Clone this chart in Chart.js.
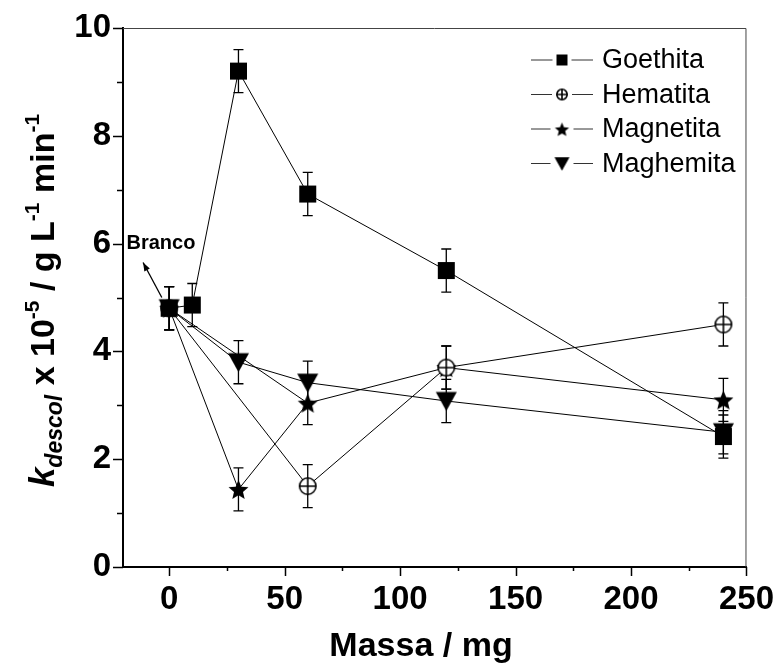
<!DOCTYPE html>
<html>
<head>
<meta charset="utf-8">
<script src="https://cdn.jsdelivr.net/npm/chart.js@4"></script>
<style>
html, body { margin: 0; padding: 0; background: #fff; }
#wrap { width: 777px; height: 670px; }
</style>
</head>
<body>
<div id="wrap"><canvas id="kChart" width="777" height="670"></canvas></div>
<script>
// massa (mg) and k_descol x 10^-5
const goethitaX = [0, 10, 30, 60, 120, 240];
const goethitaY = [4.8, 4.86, 9.2, 6.92, 5.5, 2.42];
const goethitaErr = [0.4, 0.4, 0.4, 0.4, 0.4, 0.4];

const hematitaX = [0, 60, 120, 240];
const hematitaY = [4.8, 1.5, 3.7, 4.5];
const hematitaErr = [0.4, 0.4, 0.4, 0.4];

const magnetitaX = [0, 30, 60, 120, 240];
const magnetitaY = [4.8, 1.44, 3.04, 3.7, 3.1];
const magnetitaErr = [0.4, 0.4, 0.4, 0.4, 0.4];

const maghemitaX = [0, 30, 60, 120, 240];
const maghemitaY = [4.8, 3.8, 3.42, 3.08, 2.5];
const maghemitaErr = [0.4, 0.4, 0.4, 0.4, 0.4];

// extra connecting segment visible in the figure (blank -> 60 mg)
const extraX = [0, 60];
const extraY = [4.8, 3.04];

const seriesNames = ['Goethita', 'Hematita', 'Magnetita', 'Maghemita'];
const xTicks = [0, 25, 50, 75, 100, 125, 150, 175, 200, 225, 250];

const FONT = '"Liberation Sans", Arial, sans-serif';

function toPoints(xs, ys) {
    return xs.map((x, i) => ({ x: x, y: ys[i] }));
}

function makeMarker(kind, size) {
    const pad = 2;
    const c = document.createElement('canvas');
    c.width = c.height = Math.ceil(size + pad * 2);
    const g = c.getContext('2d');
    const cx = c.width / 2, cy = c.height / 2, h = size / 2;
    g.fillStyle = '#000';
    g.strokeStyle = '#000';
    g.lineWidth = 1.6;
    if (kind === 'square') {
        g.fillRect(cx - h, cy - h, size, size);
    } else if (kind === 'circle') {
        g.beginPath();
        g.arc(cx, cy, h - 0.8, 0, Math.PI * 2);
        g.fillStyle = '#fff';
        g.fill();
        g.stroke();
        g.beginPath();
        g.moveTo(cx - h + 0.8, cy); g.lineTo(cx + h - 0.8, cy);
        g.moveTo(cx, cy - h + 0.8); g.lineTo(cx, cy + h - 0.8);
        g.stroke();
    } else if (kind === 'star') {
        g.beginPath();
        for (let k = 0; k < 10; k++) {
            const r = k % 2 === 0 ? h : h * 0.45;
            const a = -Math.PI / 2 + k * Math.PI / 5;
            const px = cx + r * Math.cos(a), py = cy + 1 + r * Math.sin(a);
            if (k === 0) g.moveTo(px, py); else g.lineTo(px, py);
        }
        g.closePath();
        g.fill();
    } else if (kind === 'triangle') {
        g.beginPath();
        g.moveTo(cx - h, cy - h * 0.85);
        g.lineTo(cx + h, cy - h * 0.85);
        g.lineTo(cx, cy + h * 0.95);
        g.closePath();
        g.fill();
    }
    return c;
}

const markerKinds = ['square', 'circle', 'star', 'triangle'];
const markerSizes = [17, 18, 21, 21];
const legendSizes = [11, 12, 15, 15];
const plotMarkers = markerKinds.map((k, i) => makeMarker(k, markerSizes[i]));
const legendMarkers = markerKinds.map((k, i) => makeMarker(k, legendSizes[i]));
const errors = [goethitaErr, hematitaErr, magnetitaErr, maghemitaErr];

function series(label, xs, ys, idx) {
    return {
        label: label,
        data: toPoints(xs, ys),
        showLine: true,
        borderColor: '#000',
        borderWidth: 1,
        pointStyle: plotMarkers[idx],
        pointRadius: 9,
        pointHoverRadius: 9
    };
}

const errorBarPlugin = {
    id: 'errorBars',
    beforeDatasetsDraw(chart) {
        const ctx = chart.ctx;
        const xs = chart.scales.x, ys = chart.scales.y;
        ctx.save();
        ctx.strokeStyle = '#000';
        ctx.lineWidth = 1.3;
        errors.forEach((errs, i) => {
            chart.data.datasets[i].data.forEach((p, j) => {
                const px = xs.getPixelForValue(p.x);
                const top = ys.getPixelForValue(p.y + errs[j]);
                const bot = ys.getPixelForValue(p.y - errs[j]);
                ctx.beginPath();
                ctx.moveTo(px, top); ctx.lineTo(px, bot);
                ctx.moveTo(px - 5, top); ctx.lineTo(px + 5, top);
                ctx.moveTo(px - 5, bot); ctx.lineTo(px + 5, bot);
                ctx.stroke();
            });
        });
        ctx.restore();
    }
};

const decorPlugin = {
    id: 'decor',
    afterDraw(chart) {
        const ctx = chart.ctx;
        const area = chart.chartArea;
        const xs = chart.scales.x, ys = chart.scales.y;
        ctx.save();

        // frame top/right
        ctx.strokeStyle = '#444';
        ctx.lineWidth = 1;
        ctx.beginPath();
        ctx.moveTo(area.left, area.top + 0.5);
        ctx.lineTo(area.right - 0.5, area.top + 0.5);
        ctx.lineTo(area.right - 0.5, area.bottom);
        ctx.stroke();

        // ticks
        ctx.strokeStyle = '#000';
        ctx.lineWidth = 1.5;
        ctx.beginPath();
        xTicks.forEach(v => {
            const px = Math.round(xs.getPixelForValue(v)) + 0.5;
            const len = v % 50 === 0 ? 9 : 4;
            ctx.moveTo(px, area.bottom); ctx.lineTo(px, area.bottom + len);
        });
        for (let v = 0; v <= 10; v++) {
            const py = Math.round(ys.getPixelForValue(v)) + 0.5;
            const len = v % 2 === 0 ? 10 : 6;
            ctx.moveTo(area.left - len, py); ctx.lineTo(area.left, py);
        }
        ctx.stroke();

        // legend
        ctx.textBaseline = 'middle';
        ctx.font = '27px ' + FONT;
        seriesNames.forEach((name, i) => {
            const y = 60 + i * 34.5;
            ctx.strokeStyle = '#333';
            ctx.lineWidth = 1;
            ctx.beginPath();
            ctx.moveTo(531, y); ctx.lineTo(593, y);
            ctx.stroke();
            const m = legendMarkers[i];
            ctx.fillStyle = '#fff';
            ctx.fillRect(562 - m.width / 2 - 2, y - m.height / 2, m.width + 4, m.height);
            ctx.drawImage(m, 562 - m.width / 2, y - m.height / 2);
            ctx.fillStyle = '#000';
            ctx.fillText(name, 602, y + 1);
        });

        // Branco annotation
        const tail = { x: xs.getPixelForValue(-3.2), y: ys.getPixelForValue(5.0) };
        const head = { x: xs.getPixelForValue(-11.3), y: ys.getPixelForValue(5.65) };
        ctx.strokeStyle = '#000';
        ctx.lineWidth = 1.3;
        ctx.beginPath();
        ctx.moveTo(tail.x, tail.y); ctx.lineTo(head.x, head.y);
        ctx.stroke();
        const ang = Math.atan2(head.y - tail.y, head.x - tail.x);
        ctx.beginPath();
        ctx.moveTo(head.x, head.y);
        ctx.lineTo(head.x - 9 * Math.cos(ang - 0.35), head.y - 9 * Math.sin(ang - 0.35));
        ctx.lineTo(head.x - 9 * Math.cos(ang + 0.35), head.y - 9 * Math.sin(ang + 0.35));
        ctx.closePath();
        ctx.fillStyle = '#000';
        ctx.fill();
        ctx.font = 'bold 20px ' + FONT;
        ctx.textBaseline = 'alphabetic';
        ctx.textAlign = 'left';
        ctx.fillText('Branco', xs.getPixelForValue(-18.5), ys.getPixelForValue(5.9));

        // x title
        ctx.font = 'bold 34px ' + FONT;
        ctx.textAlign = 'center';
        ctx.fillText('Massa / mg', 421, 656);

        // y title with sub/superscripts
        const parts = [
            { t: 'k', f: 'italic bold 35px', dy: 0 },
            { t: 'descol', f: 'italic bold 23px', dy: 8 },
            { t: ' x 10', f: 'bold 34px', dy: 0 },
            { t: '-5', f: 'bold 21px', dy: -15 },
            { t: ' / g L', f: 'bold 34px', dy: 0 },
            { t: '-1', f: 'bold 21px', dy: -15 },
            { t: ' min', f: 'bold 34px', dy: 0 },
            { t: '-1', f: 'bold 21px', dy: -15 }
        ];
        let total = 0;
        parts.forEach(p => { ctx.font = p.f + ' ' + FONT; p.w = ctx.measureText(p.t).width; total += p.w; });
        ctx.translate(54, (area.top + area.bottom) / 2 + 3);
        ctx.rotate(-Math.PI / 2);
        ctx.textAlign = 'left';
        let cx = -total / 2;
        parts.forEach(p => {
            ctx.font = p.f + ' ' + FONT;
            ctx.fillText(p.t, cx, p.dy);
            cx += p.w;
        });
        ctx.restore();
    }
};

const ctx = document.getElementById('kChart').getContext('2d');

new Chart(ctx, {
    type: 'scatter',
    data: {
        datasets: [
            series('Goethita', goethitaX, goethitaY, 0),
            series('Hematita', hematitaX, hematitaY, 1),
            series('Magnetita', magnetitaX, magnetitaY, 2),
            series('Maghemita', maghemitaX, maghemitaY, 3),
            {
                label: '',
                data: toPoints(extraX, extraY),
                showLine: true,
                borderColor: '#000',
                borderWidth: 1,
                pointRadius: 0
            }
        ]
    },
    options: {
        responsive: false,
        animation: false,
        layout: { padding: { top: 28, right: 30, left: 0, bottom: 0 } },
        plugins: {
            legend: { display: false },
            tooltip: { enabled: false }
        },
        scales: {
            x: {
                type: 'linear',
                min: -20,
                max: 250,
                afterBuildTicks: scale => { scale.ticks = xTicks.map(v => ({ value: v })); },
                afterFit: scale => { scale.height = 103; },
                grid: { drawOnChartArea: false, drawTicks: true, tickLength: 10, tickColor: 'rgba(0,0,0,0)' },
                border: { display: true, color: '#000', width: 2 },
                ticks: {
                    color: '#000',
                    padding: 3,
                    maxRotation: 0,
                    autoSkip: false,
                    font: { family: FONT, size: 33, weight: 'bold' },
                    callback: v => (v % 50 === 0 ? String(v) : '')
                }
            },
            y: {
                min: 0,
                max: 10,
                afterFit: scale => { scale.width = 123; },
                grid: { drawOnChartArea: false, drawTicks: true, tickLength: 10, tickColor: 'rgba(0,0,0,0)' },
                border: { display: true, color: '#000', width: 2 },
                ticks: {
                    stepSize: 1,
                    color: '#000',
                    padding: 2,
                    font: { family: FONT, size: 33, weight: 'bold' },
                    callback: v => (v % 2 === 0 ? String(v) : '')
                }
            }
        }
    },
    plugins: [errorBarPlugin, decorPlugin]
});
</script>
</body>
</html>
